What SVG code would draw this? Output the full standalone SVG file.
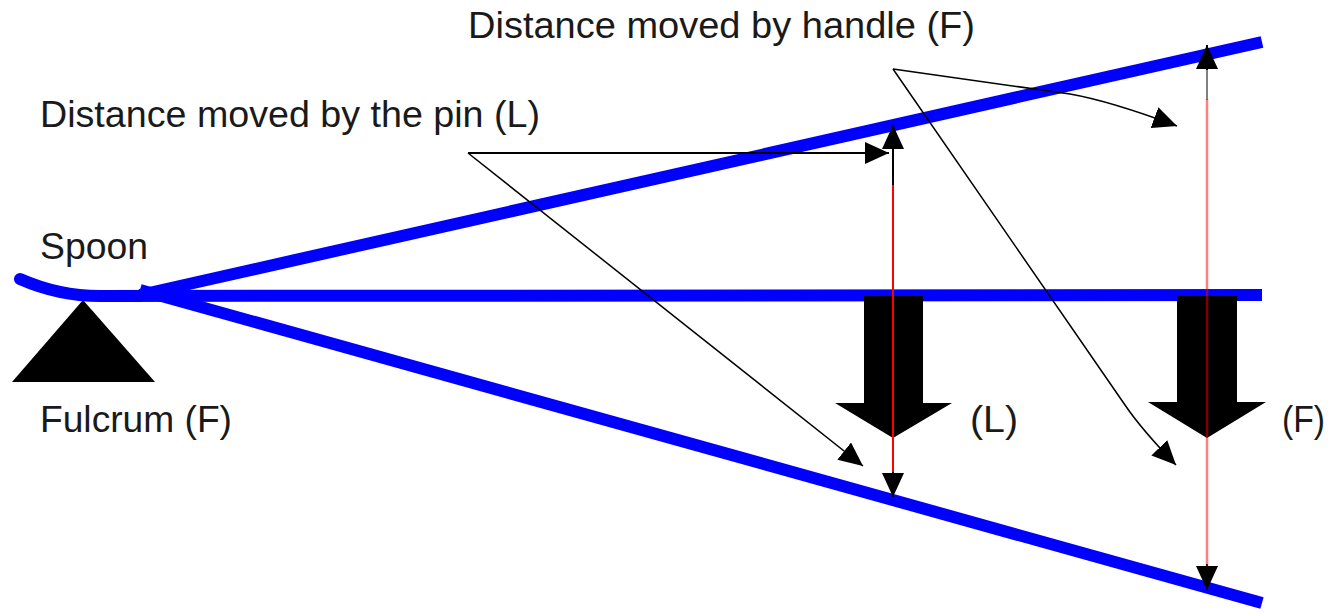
<svg xmlns="http://www.w3.org/2000/svg" width="1330" height="613" viewBox="0 0 1330 613">
  <style>
    .lbl { font-family: "Liberation Sans", Arial, sans-serif; font-size: 37px; fill: #1a1a1a; }
    .spoon { fill: none; stroke: #0000ff; stroke-width: 12; }
    .con { fill: none; stroke: #000; stroke-width: 2; }
    .thin { fill: none; stroke: #000; stroke-width: 1.5; }
    .force { fill: #000; }
  </style>
  <defs>
    <marker id="ah" viewBox="0 0 24 22" refX="24" refY="11" markerWidth="24" markerHeight="22" markerUnits="userSpaceOnUse" orient="auto-start-reverse">
      <path d="M0,0 L24,11 L0,22 z" fill="#000"/>
    </marker>
  </defs>
  <rect width="1330" height="613" fill="#fff"/>

  <g id="fulcrum">
    <polygon points="12,382 83,300 155,382" fill="#000"/>
  </g>

  <g id="spoon">
    <path class="spoon" d="M20,279 C45,290 70,296 100,296 L140,296" stroke-linecap="round"/>
    <line class="spoon" x1="100" y1="296" x2="1262" y2="295"/>
    <line class="spoon" x1="140" y1="295" x2="1262" y2="42"/>
    <line class="spoon" x1="140" y1="290" x2="1262" y2="603"/>
  </g>

  <g id="load-force">
    <path class="force" d="M864,296 H923 V403 H952 L893,438 L835,403 H864 Z"/>
  </g>
  <g id="effort-force">
    <path class="force" d="M1177,296 H1237 V402 H1266 L1207,438 L1148,402 H1177 Z"/>
  </g>

  <g id="pin-distance">
    <line class="con" x1="893" y1="125" x2="893" y2="497" marker-start="url(#ah)" marker-end="url(#ah)"/>
    <line x1="893" y1="185" x2="893" y2="472" stroke="#ff0000" stroke-width="2"/>
  </g>
  <g id="handle-distance">
    <line x1="1207" y1="68" x2="1207" y2="100" stroke="#808080" stroke-width="2"/>
    <line x1="1207" y1="45" x2="1207" y2="70" stroke="#000" stroke-width="2" marker-start="url(#ah)"/>
    <line x1="1207" y1="564" x2="1207" y2="590" stroke="#000" stroke-width="2" marker-end="url(#ah)"/>
    <line x1="1207" y1="99" x2="1207" y2="566" stroke="#ff0000" stroke-opacity="0.5" stroke-width="2.5"/>
  </g>

  <g id="connectors">
    <path class="con" d="M468,153 L889,153" marker-end="url(#ah)"/>
    <path class="thin" d="M468,153 L863,466" marker-end="url(#ah)"/>
    <path class="thin" stroke="#444" d="M893,69 L1070,94 Q1110,101 1177,126" marker-end="url(#ah)"/>
    <path class="thin" d="M893,69 L1125,405 Q1142,430 1176,465" marker-end="url(#ah)"/>
  </g>

  <g id="labels">
    <text class="lbl" x="468" y="38" textLength="507" lengthAdjust="spacingAndGlyphs">Distance moved by handle (F)</text>
    <text class="lbl" x="40" y="127" textLength="500" lengthAdjust="spacingAndGlyphs">Distance moved by the pin (L)</text>
    <text class="lbl" x="40" y="259" textLength="108" lengthAdjust="spacingAndGlyphs">Spoon</text>
    <text class="lbl" x="40" y="432" textLength="192" lengthAdjust="spacingAndGlyphs">Fulcrum (F)</text>
    <text class="lbl" x="970" y="432" textLength="48" lengthAdjust="spacingAndGlyphs">(L)</text>
    <text class="lbl" x="1282" y="432" textLength="43" lengthAdjust="spacingAndGlyphs">(F)</text>
  </g>
</svg>
